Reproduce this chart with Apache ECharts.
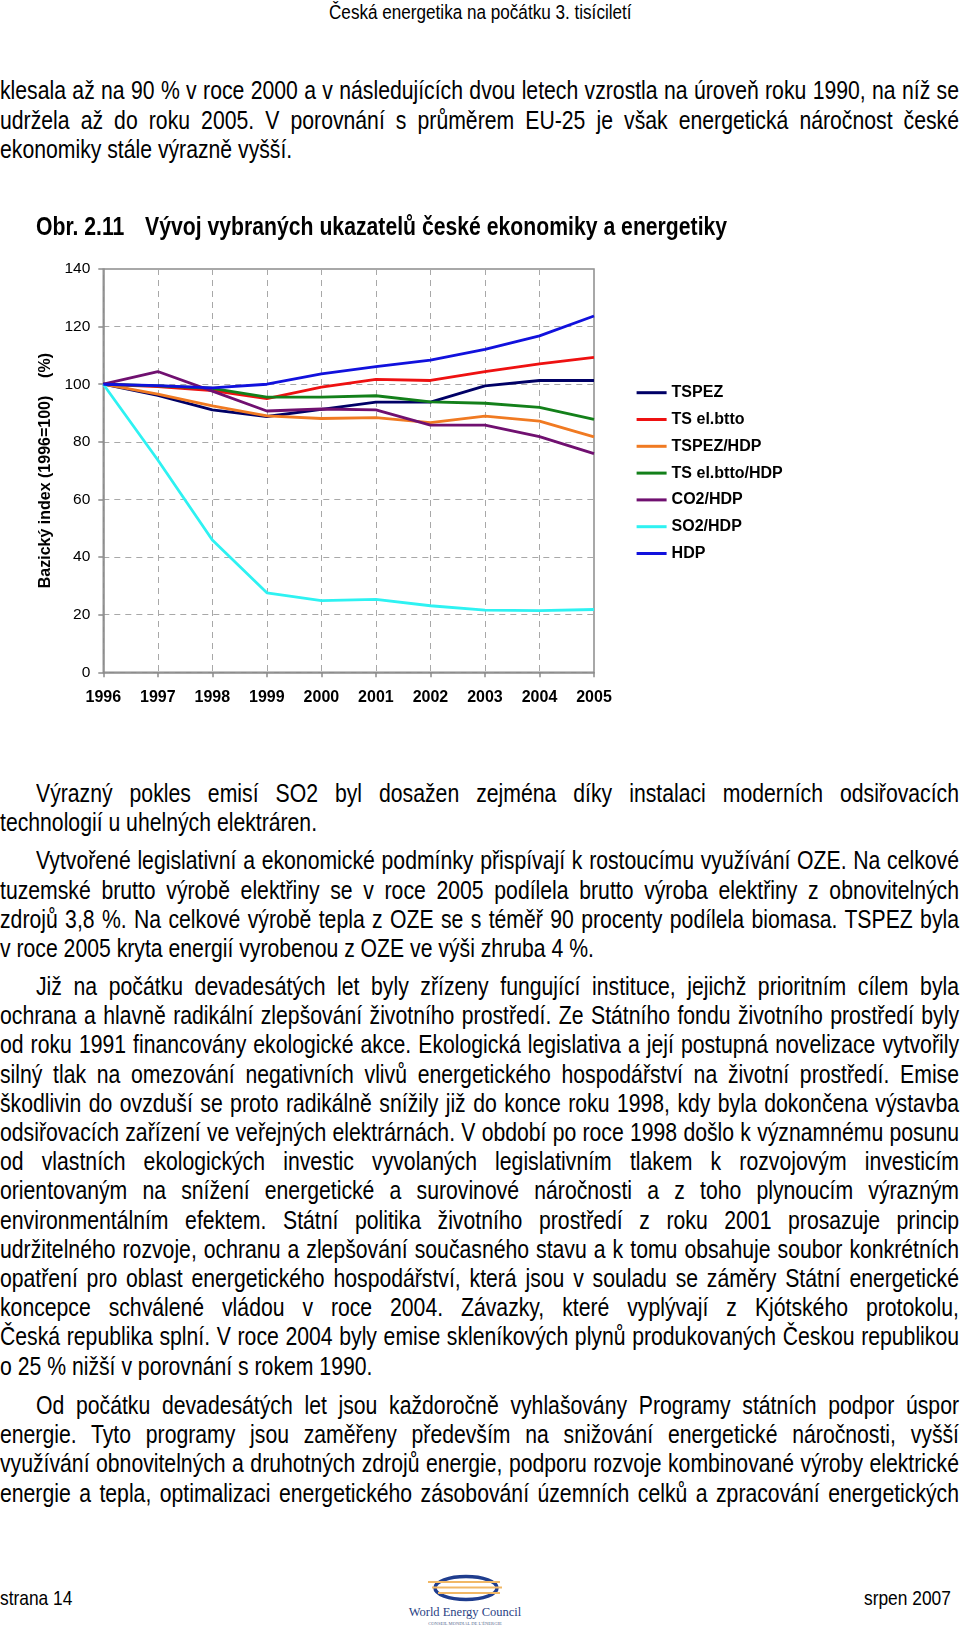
<!DOCTYPE html>
<html>
<head>
<meta charset="utf-8">
<script src="https://cdn.jsdelivr.net/npm/echarts@6/dist/echarts.min.js"></script>
<style>
  html, body { margin:0; padding:0; background:#fff; }
  #page { position:relative; width:960px; height:1628px; overflow:hidden; background:#fff; color:#000; }
  #chart { position:absolute; left:0; top:240px; width:960px; height:490px; }
  .ln { position:absolute; white-space:pre; font-family:"Liberation Sans", Arial, sans-serif; transform-origin:0 0; color:#000; }
</style>
</head>
<body>
<div id="page">
  <div id="chart"></div>
  <svg style="position:absolute;left:400px;top:1570px" width="130" height="58" viewBox="0 0 130 58">
    <ellipse cx="66" cy="18" rx="31" ry="11.5" fill="none" stroke="#1f3d8e" stroke-width="3.5"/>
    <line x1="28" y1="12" x2="100" y2="12" stroke="#f1b866" stroke-width="2"/>
    <line x1="32" y1="17.5" x2="102" y2="17.5" stroke="#f1b866" stroke-width="2"/>
    <line x1="38" y1="23" x2="100" y2="23" stroke="#f1b866" stroke-width="2"/>
    <text x="65" y="46" text-anchor="middle" font-family="Liberation Serif, DejaVu Serif, serif" font-size="12.5" fill="#2a3f84">World Energy Council</text>
    <text x="65" y="54.5" text-anchor="middle" font-family="Liberation Serif, DejaVu Serif, serif" font-size="4.6" fill="#5a6a90">CONSEIL MONDIAL DE L'ÉNERGIE</text>
  </svg>
</div>
<script>
// ---------------- chart data ----------------
const years = ['1996','1997','1998','1999','2000','2001','2002','2003','2004','2005'];
const seriesNames = ['TSPEZ','TS el.btto','TSPEZ/HDP','TS el.btto/HDP','CO2/HDP','SO2/HDP','HDP'];
const TSPEZ        = [100, 96.1, 91.1, 88.8, 91.3, 93.8, 93.8, 99.4, 101.3, 101.3];
const TS_el_btto   = [100, 99.2, 97.8, 95.0, 99.0, 101.7, 101.3, 104.4, 107.1, 109.3];
const TSPEZ_HDP    = [100, 96.6, 92.5, 89.0, 88.1, 88.4, 86.7, 88.9, 87.2, 81.7];
const TS_el_HDP    = [100, 99.4, 98.6, 95.5, 95.5, 96.0, 93.9, 93.4, 92.0, 87.8];
const CO2_HDP      = [100, 104.4, 97.6, 90.7, 91.4, 91.1, 85.8, 85.8, 81.8, 75.9];
const SO2_HDP      = [100, 73.7, 45.9, 27.6, 24.9, 25.3, 23.1, 21.6, 21.4, 21.8];
const HDP          = [100, 99.5, 98.7, 100.0, 103.6, 106.1, 108.4, 112.1, 116.8, 123.7];
const yTicks = { min: 0, max: 140, interval: 20 };
const yAxisTitle = 'Bazický index (1996=100)    (%)';
const colors = ['#000066','#ee1111','#f07a22','#13801a','#701070','#2ef2f2','#1111dd'];
const values = [TSPEZ, TS_el_btto, TSPEZ_HDP, TS_el_HDP, CO2_HDP, SO2_HDP, HDP];

// ---------------- page text ----------------
const headerText = 'Česká energetika na počátku 3. tisíciletí';
const para1 = [
  'klesala až na 90 % v roce 2000 a v následujících dvou letech vzrostla na úroveň roku 1990, na níž se',
  'udržela až do roku 2005. V porovnání s průměrem EU-25 je však energetická náročnost české',
  'ekonomiky stále výrazně vyšší.'
];
const figLabel = 'Obr. 2.11';
const figTitle = 'Vývoj vybraných ukazatelů české ekonomiky a energetiky';
const paraA = [
  'Výrazný pokles emisí SO2 byl dosažen zejména díky instalaci moderních odsiřovacích',
  'technologií u uhelných elektráren.'
];
const paraB = [
  'Vytvořené legislativní a ekonomické podmínky přispívají k rostoucímu využívání OZE. Na celkové',
  'tuzemské brutto výrobě elektřiny se v roce 2005 podílela brutto výroba elektřiny z obnovitelných',
  'zdrojů 3,8 %. Na celkové výrobě tepla z OZE se s téměř 90 procenty podílela biomasa. TSPEZ byla',
  'v roce 2005 kryta energií vyrobenou z OZE ve výši zhruba 4 %.'
];
const paraC = [
  'Již na počátku devadesátých let byly zřízeny fungující instituce, jejichž prioritním cílem byla',
  'ochrana a hlavně radikální zlepšování životního prostředí. Ze Státního fondu životního prostředí byly',
  'od roku 1991 financovány ekologické akce. Ekologická legislativa a její postupná novelizace vytvořily',
  'silný tlak na omezování negativních vlivů energetického hospodářství na životní prostředí. Emise',
  'škodlivin do ovzduší se proto radikálně snížily již do konce roku 1998, kdy byla dokončena výstavba',
  'odsiřovacích zařízení ve veřejných elektrárnách. V období po roce 1998 došlo k významnému posunu',
  'od vlastních ekologických investic vyvolaných legislativním tlakem k rozvojovým investicím',
  'orientovaným na snížení energetické a surovinové náročnosti a z toho plynoucím výrazným',
  'environmentálním efektem. Státní politika životního prostředí z roku 2001 prosazuje princip',
  'udržitelného rozvoje, ochranu a zlepšování současného stavu a k tomu obsahuje soubor konkrétních',
  'opatření pro oblast energetického hospodářství, která jsou v souladu se záměry Státní energetické',
  'koncepce schválené vládou v roce 2004. Závazky, které vyplývají z Kjótského protokolu,',
  'Česká republika splní. V roce 2004 byly emise skleníkových plynů produkovaných Českou republikou',
  'o 25 % nižší v porovnání s rokem 1990.'
];
const paraD = [
  'Od počátku devadesátých let jsou každoročně vyhlašovány Programy státních podpor úspor',
  'energie. Tyto programy jsou zaměřeny především na snižování energetické náročnosti, vyšší',
  'využívání obnovitelných a druhotných zdrojů energie, podporu rozvoje kombinované výroby elektrické',
  'energie a tepla, optimalizaci energetického zásobování územních celků a zpracování energetických'
];
const footLeft = 'strana 14';
const footRight = 'srpen 2007';

const page = document.getElementById('page');
const NARROW = 0.835;
const BODY = 25.4;
const LH = 29.2;

function addLine(text, y, o) {
  o = o || {};
  const size = o.size || BODY;
  const span = document.createElement('span');
  span.className = 'ln';
  span.textContent = text;
  span.style.fontSize = size + 'px';
  span.style.lineHeight = (size * 1.15) + 'px';
  span.style.fontWeight = o.bold ? '700' : '400';
  span.style.transform = 'scaleX(' + NARROW + ')';
  span.style.top = (y - 0.55 * size) + 'px';
  span.style.left = '0px';
  page.appendChild(span);
  const natural = span.getBoundingClientRect().width / NARROW;
  const mode = o.mode || 'left';
  if (mode === 'justify') {
    const indent = o.indent || 0;
    const right = o.right || 959;
    const target = (right - indent) / NARROW;
    const nSp = (text.match(/ /g) || []).length;
    if (nSp > 0) span.style.wordSpacing = ((target - natural) / nSp) + 'px';
    span.style.left = indent + 'px';
  } else if (mode === 'center') {
    span.style.left = (o.cx - natural * NARROW / 2) + 'px';
  } else if (mode === 'right') {
    span.style.left = (o.right - natural * NARROW) + 'px';
  } else {
    span.style.left = (o.x || 0) + 'px';
  }
}
function addPara(lines, y0, indent, continues) {
  lines.forEach((t, i) => {
    const last = i === lines.length - 1 && !continues;
    addLine(t, y0 + i * LH, last ? { mode: 'left', x: i === 0 ? indent : 0 } :
                                   { mode: 'justify', indent: i === 0 ? indent : 0 });
  });
}

addLine(headerText, 11, { size: 20.5, mode: 'center', cx: 480 });
addPara(para1, 90.3, 0);
addLine(figLabel, 225.5, { bold: true, x: 36 });
addLine(figTitle, 225.5, { bold: true, x: 145 });
addPara(paraA, 793, 36);
addPara(paraB, 860.3, 36);
addPara(paraC, 985.9, 36);
addPara(paraD, 1405, 36, true);
addLine(footLeft, 1597, { size: 20.8, x: 0 });
addLine(footRight, 1597, { size: 20.8, mode: 'right', right: 951 });

// ---------------- chart ----------------
const chart = echarts.init(document.getElementById('chart'), null, { renderer: 'canvas' });
const FONT = '"Liberation Sans", Arial, sans-serif';
const gridLine = { show: true, lineStyle: { type: [6, 5], color: '#a8a8a8', width: 1 } };
const axisGray = { color: '#8c8c8c', width: 1.5 };
chart.setOption({
  animation: false,
  textStyle: { fontFamily: FONT },
  grid: { left: 103.3, right: 366, top: 29, bottom: 57.7, show: true, borderColor: '#8c8c8c', borderWidth: 1.5, backgroundColor: 'transparent' },
  legend: {
    orient: 'vertical', left: 631.6, top: 139.7,
    icon: 'rect', itemWidth: 30, itemHeight: 3, itemGap: 10.8,
    data: seriesNames,
    textStyle: { fontSize: 16, fontWeight: 'bold', color: '#000', fontFamily: FONT, lineHeight: 16 }
  },
  xAxis: {
    type: 'category', data: years, boundaryGap: false,
    axisLine: { show: true, lineStyle: axisGray },
    axisTick: { show: true, length: 5, lineStyle: axisGray },
    axisLabel: { interval: 0, fontSize: 16, fontWeight: 'bold', color: '#000', margin: 17, fontFamily: FONT },
    splitLine: gridLine
  },
  yAxis: {
    type: 'value', min: yTicks.min, max: yTicks.max, interval: yTicks.interval,
    name: yAxisTitle, nameLocation: 'middle', nameRotate: 90, nameGap: 46,
    nameTextStyle: { fontSize: 16, fontWeight: 'bold', color: '#000', fontFamily: FONT },
    axisLine: { show: true, lineStyle: axisGray },
    axisTick: { show: true, length: 5, lineStyle: axisGray },
    axisLabel: { fontSize: 15.5, color: '#000', margin: 13, fontFamily: FONT },
    splitLine: gridLine
  },
  series: seriesNames.map((n, i) => ({
    name: n, type: 'line', data: values[i], symbol: 'none', showSymbol: false,
    color: colors[i], lineStyle: { width: 2.8, color: colors[i] }, itemStyle: { color: colors[i] },
    z: 2 + i
  }))
});
</script>
</body>
</html>
